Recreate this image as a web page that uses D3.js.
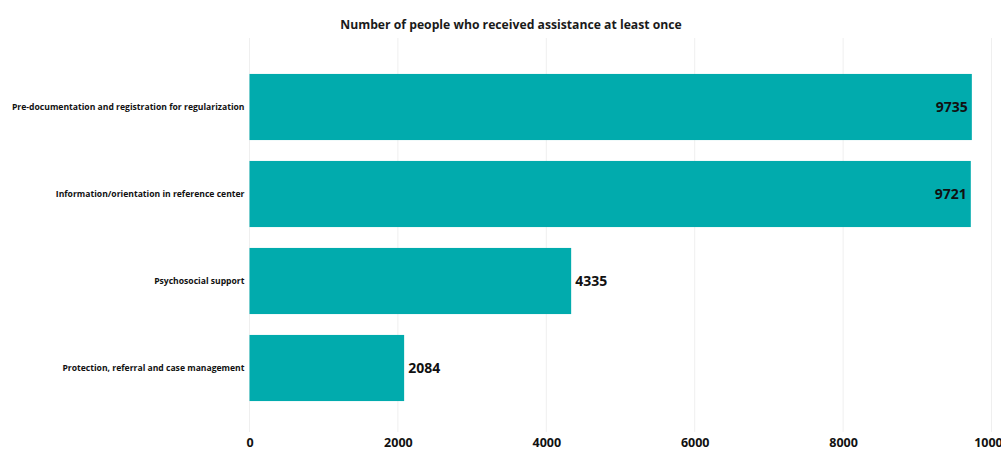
<!DOCTYPE html>
<html>
<head>
<meta charset="utf-8">
<script src="https://cdn.jsdelivr.net/npm/d3@7"></script>
<style>
  body { margin: 0; background: #fff; }
  text { font-family: "Open Sans", "Noto Sans", sans-serif; }
</style>
</head>
<body>
<svg id="chart"></svg>
<script>
var WIDTH = 1001;
var HEIGHT = 454;

var categories = [
  'Pre-documentation and registration for regularization',
  'Information/orientation in reference center',
  'Psychosocial support',
  'Protection, referral and case management'
];
var values = [9735, 9721, 4335, 2084];
var xTicks = [0, 2000, 4000, 6000, 8000, 10000];
var title = 'Number of people who received assistance at least once';

var data = categories.map(function(c, i){ return { name: c, value: values[i] }; });

var svg = d3.select('#chart')
  .attr('width', WIDTH)
  .attr('height', HEIGHT);

var xScale = d3.scaleLinear().domain([0, 10000]).range([249.5, 991.5]);
var yScale = d3.scaleBand().domain(categories).range([63.5, 411.5]).paddingInner(0.24).paddingOuter(0.12);

// gridlines
svg.append('g').selectAll('line').data(xTicks).enter()
  .append('line')
  .attr('x1', function(d){ return xScale(d); })
  .attr('x2', function(d){ return xScale(d); })
  .attr('y1', 38)
  .attr('y2', 432)
  .attr('stroke', '#efefef')
  .attr('stroke-width', 1);

// title
svg.append('text')
  .attr('x', 511)
  .attr('y', 29)
  .attr('text-anchor', 'middle')
  .attr('font-size', 12.2)
  .attr('font-weight', 'bold')
  .attr('fill', '#1a1a1a')
  .text(title);

// bars
svg.append('g').selectAll('rect').data(data).enter()
  .append('rect')
  .attr('x', xScale(0))
  .attr('y', function(d){ return yScale(d.name); })
  .attr('width', function(d){ return xScale(d.value) - xScale(0); })
  .attr('height', yScale.bandwidth())
  .attr('fill', '#01abad');

// value labels: inside for long bars, outside for short
svg.append('g').selectAll('text').data(data).enter()
  .append('text')
  .attr('x', function(d){
    return d.value > 8000 ? xScale(d.value) - 4 : xScale(d.value) + 4;
  })
  .attr('y', function(d){ return yScale(d.name) + yScale.bandwidth() / 2; })
  .attr('dy', '0.35em')
  .attr('text-anchor', function(d){ return d.value > 8000 ? 'end' : 'start'; })
  .attr('font-size', 14)
  .attr('font-weight', 'bold')
  .attr('fill', '#111')
  .text(function(d){ return d.value; });

// category axis
var leftAxis = d3.axisLeft(yScale).tickSize(0).tickPadding(5);
var ly = svg.append('g')
  .attr('transform', 'translate(' + xScale(0) + ',0)')
  .call(leftAxis);
ly.select('.domain').remove();
ly.selectAll('text')
  .attr('font-size', 8.6)
  .attr('font-weight', 'bold')
  .attr('fill', '#111')
  .style('font-family', '"Open Sans", "Noto Sans", sans-serif');

// value axis
var botAxis = d3.axisBottom(xScale).tickValues(xTicks).tickSize(0).tickPadding(0)
  .tickFormat(d3.format('d'));
var bx = svg.append('g')
  .attr('transform', 'translate(0,438)')
  .call(botAxis);
bx.select('.domain').remove();
bx.selectAll('text')
  .attr('font-size', 12.5)
  .attr('font-weight', 'bold')
  .attr('fill', '#111')
  .style('font-family', '"Open Sans", "Noto Sans", sans-serif');
</script>
</body>
</html>
